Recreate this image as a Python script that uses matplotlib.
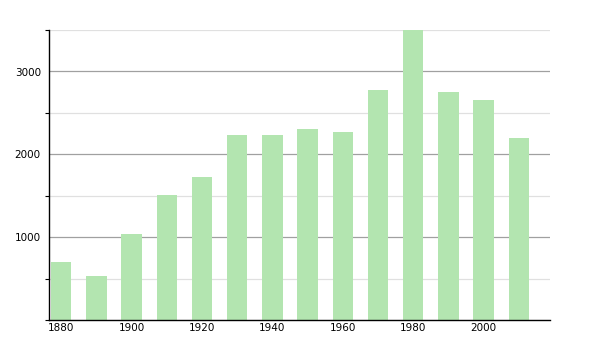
import matplotlib.pyplot as plt
from matplotlib.ticker import MultipleLocator

years = [1880, 1890, 1900, 1910, 1920, 1930, 1940, 1950, 1960, 1970, 1980, 1990, 2000, 2010]
population = [705, 525, 1040, 1510, 1720, 2237, 2237, 2310, 2273, 2781, 3498, 2757, 2660, 2200]
tick_years = [1880, 1900, 1920, 1940, 1960, 1980, 2000]

fig = plt.figure(figsize=(6, 3.5), dpi=100)
ax = fig.add_axes([0.082, 0.086, 0.835, 0.828])

ax.bar(years, population, width=5.8, color="#b3e5b0", zorder=2)

ax.set_xlim(1876.6, 2018.9)
ax.set_ylim(0, 3500)
ax.set_xticks(tick_years)
ax.yaxis.set_major_locator(MultipleLocator(1000))
ax.yaxis.set_minor_locator(MultipleLocator(500))
ax.set_yticks([1000, 2000, 3000])

ax.grid(axis="y", which="major", color="#a0a0a0", linewidth=0.9, zorder=1)
ax.grid(axis="y", which="minor", color="#e0e0e0", linewidth=0.9, zorder=1)

for s in ["top", "right"]:
    ax.spines[s].set_visible(False)
ax.spines["left"].set_linewidth(1)
ax.spines["bottom"].set_linewidth(1)

ax.tick_params(axis="y", which="major", length=0, labelsize=7.5, pad=6)
ax.tick_params(axis="y", which="minor", length=3, width=0.8)
ax.tick_params(axis="x", length=0, labelsize=7.5, pad=2)

fig.savefig("out.png")
